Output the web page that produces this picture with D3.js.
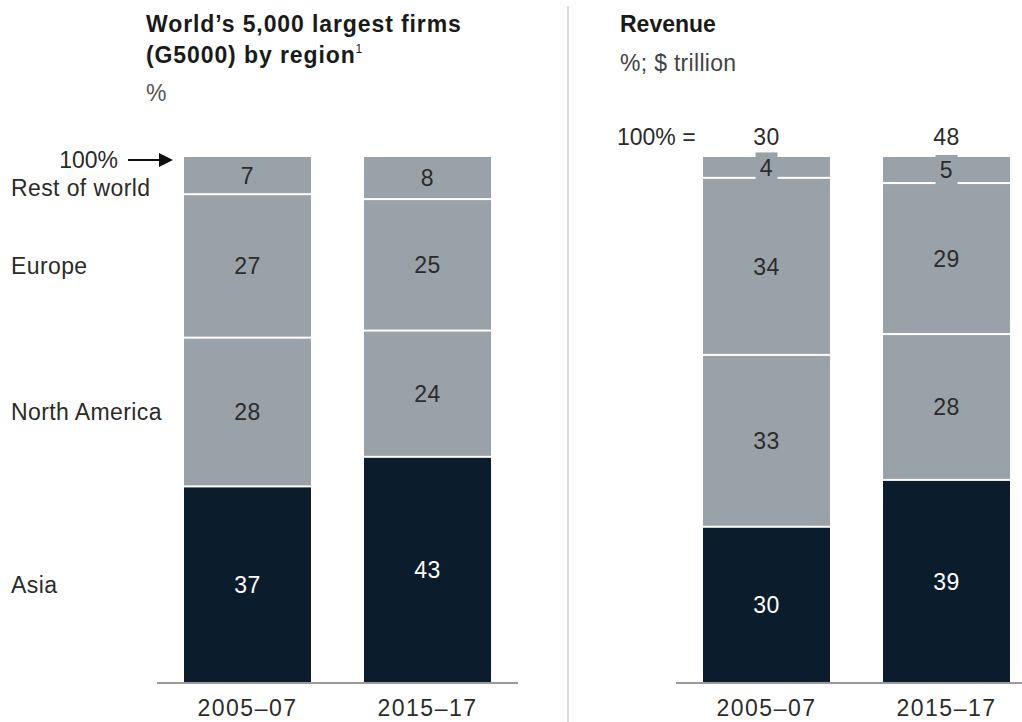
<!DOCTYPE html>
<html><head><meta charset="utf-8">
<script src="https://cdn.jsdelivr.net/npm/d3@7"></script>
<style>
body{margin:0;background:#fff;}
svg text{font-family:"Liberation Sans",Arial,sans-serif;}
</style></head>
<body><svg id="c" width="1022" height="722"></svg>
<script>
const periods = ["2005–07", "2015–17"];
const regions = ["Asia", "North America", "Europe", "Rest of world"];
const firmsAsia = [37, 43];
const firmsNorthAmerica = [28, 24];
const firmsEurope = [27, 25];
const firmsRest = [7, 8];
const revAsia = [30, 39];
const revNorthAmerica = [33, 28];
const revEurope = [34, 29];
const revRest = [4, 5];
const revTotals = [30, 48];

const colors = {"Asia":"#0b1d2c","North America":"#9aa2a9","Europe":"#9aa2a9","Rest of world":"#9aa2a9"};
const svg = d3.select("#c");

function buildRows(a, n, e, r){
  return periods.map((p,i)=>({period:p,"Asia":a[i],"North America":n[i],"Europe":e[i],"Rest of world":r[i]}));
}

function panel(rows, x0, x1, drawBox){
  const x = d3.scaleBand().domain(periods).range([x0, x1]).paddingInner(53/180).paddingOuter(0.15);
  const y = d3.scaleLinear().domain([0,1]).range([683,157]);
  const series = d3.stack().keys(regions).offset(d3.stackOffsetExpand)(rows);
  const g = svg.append("g");
  const last = regions.length-1;
  series.forEach((s,si)=>{
    s.forEach(d=>{
      const bx = x(d.data.period), bw = x.bandwidth();
      const top = y(d[1]), bot = y(d[0]);
      const t = top + (si===last?0:1);
      const b = bot - (si===0?0:1);
      g.append("rect").attr("x",bx).attr("y",t)
        .attr("width",bw).attr("height",Math.max(0,b-t))
        .attr("fill",colors[s.key]);
    });
  });
  series.forEach((s,si)=>{
    s.forEach(d=>{
      const cx = x(d.data.period)+x.bandwidth()/2;
      const cy = (y(d[0])+y(d[1]))/2;
      const v = d.data[s.key];
      if(drawBox && y(d[0])-y(d[1]) < 30){
        g.append("rect").attr("x",cx-11).attr("y",cy-15).attr("width",22).attr("height",29).attr("fill",colors[s.key]);
      }
      g.append("text").attr("x",cx).attr("y",cy).attr("dy","0.36em").attr("text-anchor","middle")
        .attr("font-size",23).attr("letter-spacing",0.5).attr("fill", s.key==="Asia"?"#ffffff":"#2b2b2b").text(v);
    });
  });
  const ax = g.append("g").attr("transform","translate(0,683)")
    .call(d3.axisBottom(x).tickSize(0).tickPadding(17));
  ax.select(".domain").attr("stroke","#9a9a9a").attr("stroke-width",2).attr("d",`M${x0},0H${Math.min(x1,1022)}`);
  ax.selectAll("text").attr("font-size",23).attr("letter-spacing",1.5).attr("fill","#2b2b2b").attr("font-family","Liberation Sans, Arial, sans-serif");
  return {x,y,series};
}

const left = panel(buildRows(firmsAsia, firmsNorthAmerica, firmsEurope, firmsRest), 157, 518, false);
const right = panel(buildRows(revAsia, revNorthAmerica, revEurope, revRest), 676, 1037, true);

left.series.forEach(s=>{
  const d = s[0];
  let cy = (left.y(d[0])+left.y(d[1]))/2;
  if(s.key==="Rest of world") cy = left.y(d[1]) + 31;
  svg.append("text").attr("x",11).attr("y",cy).attr("dy","0.36em").attr("font-size",23).attr("letter-spacing",0.4).attr("fill","#2b2b2b").text(s.key);
});

svg.append("text").attr("x",118).attr("y",160).attr("dy","0.36em").attr("text-anchor","end").attr("font-size",23).attr("fill","#2b2b2b").text("100%");
svg.append("line").attr("x1",128).attr("x2",162).attr("y1",160).attr("y2",160).attr("stroke","#111").attr("stroke-width",2.2);
svg.append("path").attr("d","M159,153L173,160L159,167Z").attr("fill","#111");

const t1 = svg.append("text").attr("x",146).attr("y",32).attr("font-size",23).attr("letter-spacing",0.9).attr("font-weight","bold").attr("fill","#1a1a1a");
t1.text("World’s 5,000 largest firms");
const t2 = svg.append("text").attr("x",146).attr("y",63).attr("font-size",23).attr("letter-spacing",0.9).attr("font-weight","bold").attr("fill","#1a1a1a");
t2.append("tspan").text("(G5000) by region");
t2.append("tspan").attr("font-size",12).attr("font-weight","normal").attr("dy",-10).text("1");
svg.append("text").attr("x",146).attr("y",101).attr("font-size",23).attr("fill","#555").text("%");

svg.append("text").attr("x",620).attr("y",32).attr("font-size",23).attr("font-weight","bold").attr("fill","#1a1a1a").text("Revenue");
svg.append("text").attr("x",620).attr("y",71).attr("font-size",23).attr("letter-spacing",0.3).attr("fill","#444").text("%; $ trillion");
svg.append("text").attr("x",617).attr("y",145).attr("font-size",23).attr("fill","#2b2b2b").text("100% =");
revTotals.forEach((v,i)=>{
  svg.append("text").attr("x",right.x(periods[i])+right.x.bandwidth()/2).attr("y",145).attr("text-anchor","middle")
    .attr("font-size",23).attr("letter-spacing",0.5).attr("fill","#2b2b2b").text(v);
});

svg.append("line").attr("x1",568).attr("x2",568).attr("y1",6).attr("y2",722).attr("stroke","#dcdcdc").attr("stroke-width",2);
</script></body></html>
